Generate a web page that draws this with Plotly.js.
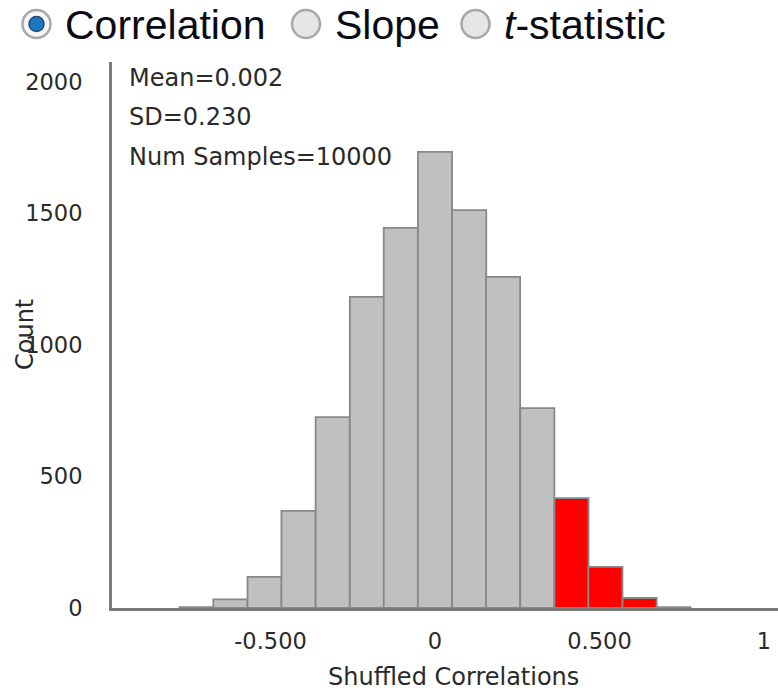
<!DOCTYPE html>
<html>
<head>
<meta charset="utf-8">
<script src="https://cdn.plot.ly/plotly-3.0.1.min.js"></script>
<style>
html,body{margin:0;padding:0;overflow:hidden;background:#fff;}
#chart{width:794px;height:691px;}
</style>
</head>
<body>
<div id="chart"></div>
<script>
// ---- data ----
const binCenters = [-0.725, -0.622, -0.518, -0.415, -0.311, -0.207, -0.104, 0.000, 0.104, 0.207, 0.311, 0.415, 0.518, 0.622, 0.725];
const counts     = [3, 33, 118, 369, 726, 1183, 1445, 1734, 1513, 1259, 760, 418, 156, 38, 3];
const binWidth = 0.1036;
const observedCorrelation = 0.36;
const xTickVals = [-0.5, 0, 0.5, 1];
const xTickText = ["-0.500", "0", "0.500", "1"];
const yTickVals = [0, 500, 1000, 1500, 2000];
const yTickText = ["0", "500", "1000", "1500", "2000"];
const statLines = ["Mean=0.002", "SD=0.230", "Num Samples=10000"];
const radioLabels = ["Correlation", "Slope", "<i>t</i>-statistic"];
const radioSelected = [true, false, false];
const xTitle = "Shuffled Correlations";
const yTitle = "Count";

// ---- layout geometry ----
const W = 794, H = 691, L = 112, R = 0, T = 62, B = 83;
const pw = W - L - R, ph = H - T - B;
const px = x => (x - L) / pw;
const py = y => (H - B - y) / ph;

const barColors = binCenters.map(c => c > observedCorrelation ? '#ff0000' : '#c0c0c0');

const trace = {
  type: 'bar',
  x: binCenters,
  y: counts,
  width: binWidth,
  marker: {color: barColors, line: {color: '#888888', width: 1.8}},
  hoverinfo: 'skip'
};

const textColor = '#2a2a2a';
const annotations = [];
const statY = [78, 117.5, 157];
statLines.forEach((t, i) => annotations.push({
  text: t, xref: 'paper', yref: 'paper', x: px(127), y: py(statY[i]),
  xanchor: 'left', yanchor: 'middle', showarrow: false,
  font: {family: 'DejaVu Sans', size: 24, color: textColor}
}));
annotations.push({
  text: xTitle, xref: 'paper', yref: 'paper', x: px(453), y: py(676.5),
  xanchor: 'center', yanchor: 'middle', showarrow: false,
  font: {family: 'DejaVu Sans', size: 24, color: textColor}
});
annotations.push({
  text: yTitle, xref: 'paper', yref: 'paper', x: px(25), y: py(335),
  xanchor: 'center', yanchor: 'middle', showarrow: false, textangle: -90,
  font: {family: 'DejaVu Sans', size: 24, color: textColor}
});

const radioTextX = [63, 333, 502];
const radioCircleX = [36.5, 306, 475.5];
const radioY = 25;
const shapes = [];
radioLabels.forEach((t, i) => {
  annotations.push({
    text: t, xref: 'paper', yref: 'paper', x: px(radioTextX[i]), y: py(radioY),
    xanchor: 'left', yanchor: 'middle', showarrow: false,
    font: {family: 'Liberation Sans', size: 41, color: '#0a0a14'}
  });
  shapes.push({
    type: 'circle', xref: 'paper', yref: 'paper', xsizemode: 'pixel', ysizemode: 'pixel',
    xanchor: px(radioCircleX[i]), yanchor: py(24), x0: -14, x1: 14, y0: -14, y1: 14,
    line: {color: '#a8a8a8', width: 2.5}, fillcolor: radioSelected[i] ? '#f6f6f6' : '#e6e6e6'
  });
  if (radioSelected[i]) {
    shapes.push({
      type: 'circle', xref: 'paper', yref: 'paper', xsizemode: 'pixel', ysizemode: 'pixel',
      xanchor: px(radioCircleX[i]), yanchor: py(24), x0: -7.5, x1: 7.5, y0: -7.5, y1: 7.5,
      line: {color: '#1d4b78', width: 1.5}, fillcolor: '#1e78c0'
    });
  }
});

const layout = {
  width: W, height: H,
  margin: {l: L, r: R, t: T, b: B, pad: 0},
  paper_bgcolor: '#fff', plot_bgcolor: '#fff',
  showlegend: false,
  xaxis: {
    range: [(L - 435) / 329, (W - 435) / 329],
    showline: true, linecolor: '#7a7a7a', linewidth: 3,
    showgrid: false, zeroline: false, ticks: '',
    tickvals: xTickVals, ticktext: xTickText, ticklabelstandoff: 11,
    tickfont: {family: 'DejaVu Sans', size: 22.5, color: textColor}
  },
  yaxis: {
    range: [0, 2076],
    showline: true, linecolor: '#7a7a7a', linewidth: 3,
    showgrid: false, zeroline: false, ticks: '',
    tickvals: yTickVals, ticktext: yTickText, ticklabelstandoff: 22,
    tickfont: {family: 'DejaVu Sans', size: 22.5, color: textColor}
  },
  annotations: annotations,
  shapes: shapes
};

Plotly.newPlot('chart', [trace], layout, {displayModeBar: false, staticPlot: true});
</script>
</body>
</html>
